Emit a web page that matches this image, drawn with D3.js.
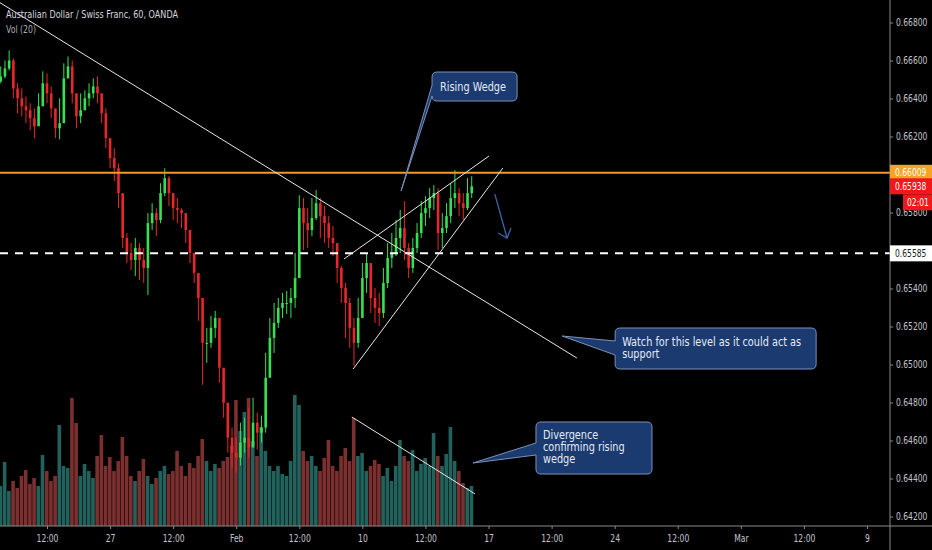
<!DOCTYPE html>
<html>
<head>
<meta charset="utf-8">
<script src="https://cdn.jsdelivr.net/npm/d3@7"></script>
<style>
  body { margin: 0; background: #000; overflow: hidden; }
  text { font-family: "DejaVu Sans Condensed", "Liberation Sans", sans-serif; }
</style>
</head>
<body>
<script>
// AUDCHF 60, grouped in 4 hour candles
const firstBar = -26;   // bar index of first candle (0 = Jan 27 open)
const firstOpen = 0.66490;
const closes = [
  0.66516, 0.66558, 0.66600, 0.66453, 0.66401, 0.66359, 0.66338, 0.66296, 0.66254, 0.66359,
  0.66480, 0.66427, 0.66348, 0.66243, 0.66270, 0.66506, 0.66569, 0.66427, 0.66306, 0.66338,
  0.66401, 0.66427, 0.66464, 0.66427, 0.66322, 0.66191, 0.66086, 0.66033, 0.65902, 0.65666,
  0.65587, 0.65550, 0.65613, 0.65550, 0.65508, 0.65744, 0.65797, 0.65760, 0.65902, 0.65981,
  0.65902, 0.65823, 0.65813, 0.65797, 0.65708, 0.65587, 0.65482, 0.65350, 0.65114, 0.65114,
  0.65193, 0.65245, 0.64983, 0.64799, 0.64615, 0.64536, 0.64510, 0.64589, 0.64615, 0.64563,
  0.64694, 0.64641, 0.64668, 0.64930, 0.65140, 0.65219, 0.65298, 0.65324, 0.65324, 0.65350,
  0.65455, 0.65823, 0.65744, 0.65708, 0.65771, 0.65849, 0.65781, 0.65744, 0.65666, 0.65639,
  0.65508, 0.65403, 0.65324, 0.65193, 0.65114, 0.65245, 0.65455, 0.65534, 0.65350, 0.65298,
  0.65271, 0.65429, 0.65561, 0.65587, 0.65666, 0.65718, 0.65613, 0.65508, 0.65613, 0.65692,
  0.65797, 0.65823, 0.65876, 0.65902, 0.65692, 0.65718, 0.65781, 0.65876, 0.65902, 0.65849,
  0.65823, 0.65902, 0.65938
];
const highs = [
  0.66569, 0.66600, 0.66653, 0.66611, 0.66480, 0.66453, 0.66411, 0.66375, 0.66348, 0.66427,
  0.66543, 0.66532, 0.66464, 0.66338, 0.66401, 0.66585, 0.66621, 0.66600, 0.66427, 0.66427,
  0.66443, 0.66480, 0.66506, 0.66516, 0.66427, 0.66348, 0.66191, 0.66138, 0.66059, 0.65876,
  0.65692, 0.65639, 0.65666, 0.65639, 0.65613, 0.65797, 0.65849, 0.65823, 0.65954, 0.66033,
  0.65991, 0.65902, 0.65876, 0.65823, 0.65797, 0.65666, 0.65587, 0.65455, 0.65271, 0.65193,
  0.65256, 0.65282, 0.65245, 0.64930, 0.64773, 0.64668, 0.64615, 0.64694, 0.64720, 0.64773,
  0.64825, 0.64746, 0.64731, 0.65061, 0.65245, 0.65324, 0.65350, 0.65377, 0.65387, 0.65403,
  0.65587, 0.65891, 0.65876, 0.65823, 0.65876, 0.65918, 0.65876, 0.65834, 0.65781, 0.65729,
  0.65613, 0.65518, 0.65429, 0.65350, 0.65245, 0.65350, 0.65534, 0.65587, 0.65534, 0.65403,
  0.65377, 0.65508, 0.65639, 0.65692, 0.65760, 0.65813, 0.65860, 0.65639, 0.65666, 0.65744,
  0.65860, 0.65886, 0.65928, 0.65944, 0.65928, 0.65797, 0.65849, 0.65954, 0.66023, 0.65928,
  0.65902, 0.65981, 0.65991
];
const lows = [
  0.66480, 0.66506, 0.66548, 0.66401, 0.66322, 0.66306, 0.66270, 0.66233, 0.66191, 0.66270,
  0.66401, 0.66375, 0.66296, 0.66191, 0.66185, 0.66427, 0.66506, 0.66375, 0.66243, 0.66270,
  0.66338, 0.66359, 0.66401, 0.66375, 0.66270, 0.66138, 0.66033, 0.65965, 0.65823, 0.65613,
  0.65534, 0.65497, 0.65466, 0.65445, 0.65429, 0.65366, 0.65708, 0.65676, 0.65744, 0.65886,
  0.65834, 0.65760, 0.65744, 0.65718, 0.65639, 0.65534, 0.65429, 0.65230, 0.64893, 0.65009,
  0.65088, 0.65140, 0.64904, 0.64720, 0.64536, 0.64458, 0.64431, 0.64468, 0.64536, 0.64510,
  0.64589, 0.64552, 0.64589, 0.64641, 0.64972, 0.65061, 0.65193, 0.65245, 0.65266, 0.65245,
  0.65298, 0.65482, 0.65602, 0.65613, 0.65676, 0.65760, 0.65666, 0.65639, 0.65613, 0.65571,
  0.65429, 0.65324, 0.65140, 0.65088, 0.64993, 0.65088, 0.65298, 0.65377, 0.65271, 0.65219,
  0.65203, 0.65245, 0.65403, 0.65508, 0.65571, 0.65587, 0.65550, 0.65455, 0.65482, 0.65587,
  0.65666, 0.65729, 0.65771, 0.65813, 0.65602, 0.65613, 0.65692, 0.65744, 0.65823, 0.65781,
  0.65760, 0.65813, 0.65876
];
const volumes = [
  400, 640, 350, 450, 380, 500, 560, 420, 480, 400,
  710, 550, 450, 500, 1010, 600, 580, 1280, 1030, 500,
  620, 550, 480, 700, 910, 600, 690, 550, 650, 890,
  700, 500, 450, 550, 670, 500, 420, 480, 550, 600,
  520, 550, 750, 600, 500, 630, 580, 700, 870, 650,
  550, 620, 580, 650, 690, 800, 1260, 950, 1140, 1280,
  850, 700, 990, 750, 600, 550, 600, 520, 500, 650,
  1310, 1210, 750, 650, 700, 600, 550, 680, 860, 600,
  550, 700, 780, 650, 1080, 700, 730, 550, 600, 660,
  620, 500, 580, 450, 600, 860, 700, 650, 760, 550,
  620, 680, 600, 930, 700, 600, 720, 990, 650, 550,
  430, 380, 400
];

// time axis: bar index of each label (30 bars of 4h per week)
const timeTicks = [-15, 0, 15, 30, 45, 60, 75, 90, 105, 120, 135, 150, 165, 180];
const timeLabels = ["12:00", "27", "12:00", "Feb", "12:00", "10", "12:00", "17", "12:00", "24", "12:00", "Mar", "12:00", "9"];
const priceTicks = [0.642, 0.644, 0.646, 0.648, 0.650, 0.652, 0.654, 0.656, 0.658, 0.660, 0.662, 0.664, 0.666, 0.668];

// levels and drawings: [bar, price]
const resistance = 0.66009;
const support = 0.65585;
const lastPrice = 0.65938;
const downTrend = [[-26.6, 0.66910], [111.0, 0.65034]];
const wedgeUpper = [[55.6, 0.65555], [90.1, 0.66097]];
const wedgeLower = [[57.8, 0.64976], [93.4, 0.66034]];
const volTrend = [[57.5, 1090], [86.8, 320]];
const arrowPts = [[91.5, 0.65897], [94.4, 0.65666]];

const W = 932, H = 550;
const plotR = 890, plotB = 526;

const svg = d3.select('body').append('svg').attr('width', W).attr('height', H)
    .style('background', '#000');

const x = d3.scaleLinear().domain([-15, 180]).range([47, 867]);
const y = d3.scaleLinear().domain([0.642, 0.668]).range([516.5, 22.5]);
const yv = d3.scaleLinear().domain([0, 1310]).range([plotB, 395]);

// squeeze text a bit, the chart font is narrower than ours
function squeeze(sel, f) {
    sel.each(function () {
        const len = this.getComputedTextLength();
        d3.select(this).attr('textLength', len * f).attr('lengthAdjust', 'spacingAndGlyphs');
    });
}

const candles = closes.map((c, k) => ({
    bar: firstBar + k,
    o: k === 0 ? firstOpen : closes[k - 1],
    c: c, h: highs[k], l: lows[k], v: volumes[k]
}));

const plot = svg.append('g');
plot.append('clipPath').attr('id', 'clip').append('rect')
    .attr('x', 0).attr('y', 0).attr('width', plotR).attr('height', plotB);
const g = plot.append('g').attr('clip-path', 'url(#clip)');

// volume
const step = x(1) - x(0);
g.append('g').selectAll('rect').data(candles).enter().append('rect')
    .attr('x', d => x(d.bar) - step / 2)
    .attr('width', step - 0.6)
    .attr('y', d => yv(d.v))
    .attr('height', d => plotB - yv(d.v))
    .attr('fill', d => d.c >= d.o ? '#22625c' : '#7c2f2f');

// candles
const up = '#35e052', down = '#e8262b';
const cg = g.append('g');
cg.selectAll('line').data(candles).enter().append('line')
    .attr('x1', d => x(d.bar)).attr('x2', d => x(d.bar))
    .attr('y1', d => y(d.h)).attr('y2', d => y(d.l))
    .attr('stroke', d => d.c >= d.o ? up : down).attr('stroke-width', 1);
cg.selectAll('rect').data(candles).enter().append('rect')
    .attr('x', d => x(d.bar) - 1.3).attr('width', 2.6)
    .attr('y', d => y(Math.max(d.o, d.c)))
    .attr('height', d => Math.max(1, Math.abs(y(d.o) - y(d.c))))
    .attr('fill', d => d.c >= d.o ? up : down);

// levels
g.append('line').attr('x1', 0).attr('x2', plotR).attr('y1', y(resistance)).attr('y2', y(resistance))
    .attr('stroke', '#f29a22').attr('stroke-width', 2);
g.append('line').attr('x1', 0).attr('x2', plotR).attr('y1', y(support)).attr('y2', y(support))
    .attr('stroke', '#ffffff').attr('stroke-width', 2).attr('stroke-dasharray', '8,7');

// trend lines
const priceLine = d3.line().x(d => x(d[0])).y(d => y(d[1]));
[downTrend, wedgeUpper, wedgeLower].forEach(pts => {
    g.append('path').attr('d', priceLine(pts)).attr('stroke', '#e8e8e8')
        .attr('stroke-width', 1).attr('fill', 'none');
});
g.append('path').attr('d', d3.line().x(d => x(d[0])).y(d => yv(d[1]))(volTrend))
    .attr('stroke', '#e8e8e8').attr('stroke-width', 1).attr('fill', 'none');

// arrow
const ax1 = x(arrowPts[0][0]), ay1 = y(arrowPts[0][1]);
const ax2 = x(arrowPts[1][0]), ay2 = y(arrowPts[1][1]);
g.append('line').attr('x1', ax1).attr('y1', ay1).attr('x2', ax2).attr('y2', ay2)
    .attr('stroke', '#3f64a8').attr('stroke-width', 1.3);
g.append('path').attr('d', `M${ax2 - 9},${ay2 - 5} L${ax2},${ay2} L${ax2 + 4},${ay2 - 10}`)
    .attr('stroke', '#3f64a8').attr('stroke-width', 1.3).attr('fill', 'none');

// callouts
const callouts = [
    { tip: [x(69.2), y(0.65913)], box: [31, -119, 85, 29], tail: [13, 24], lines: ["Rising Wedge"], ty: 19, tx: 8 },
    { tip: [x(107.5), y(0.65150)], box: [53, -8, 201, 41], tail: [13, 27], lines: ["Watch for this level as it could act as", "support"], ty: 18, tx: 7 },
    { tip: [x(86.3), yv(630)], box: [63, -41, 116, 52], tail: [21, 33], lines: ["Divergence", "confirming rising", "wedge"], ty: 17, tx: 7 }
];
callouts.forEach(c => {
    const [tx, ty] = c.tip;
    const x0 = tx + c.box[0], y0 = ty + c.box[1], x1 = x0 + c.box[2], y1 = y0 + c.box[3];
    const r = 5, a = y0 + c.tail[0], b = y0 + c.tail[1];
    const d = `M${x0 + r},${y0} H${x1 - r} Q${x1},${y0} ${x1},${y0 + r} V${y1 - r} Q${x1},${y1} ${x1 - r},${y1}` +
        ` H${x0 + r} Q${x0},${y1} ${x0},${y1 - r} V${b} L${tx},${ty} L${x0},${a} V${y0 + r} Q${x0},${y0} ${x0 + r},${y0} Z`;
    svg.append('path').attr('d', d).attr('fill', '#1b3a6f').attr('stroke', '#7d92b8').attr('stroke-width', 1);
    c.lines.forEach((t, i) => {
        svg.append('text').attr('x', x0 + c.tx).attr('y', y0 + c.ty + i * 12)
            .attr('fill', '#e4ebf6').attr('font-size', 12).text(t)
            .call(squeeze, 0.9);
    });
});

// axes
const yAxis = svg.append('g').attr('transform', `translate(${plotR},0)`)
    .call(d3.axisRight(y).tickValues(priceTicks).tickFormat(d3.format('.5f')).tickSize(3).tickPadding(3));
const xAxis = svg.append('g').attr('transform', `translate(0,${plotB})`)
    .call(d3.axisBottom(x).tickValues(timeTicks).tickFormat((d, i) => timeLabels[i]).tickSize(3).tickPadding(6));
[yAxis, xAxis].forEach(a => {
    a.select('.domain').remove();
    a.selectAll('line').attr('stroke', '#8a8a8a');
    a.selectAll('text').attr('fill', '#c3c6cd').attr('font-size', 9.6)
        .style('font-family', '"DejaVu Sans Condensed", "Liberation Sans", sans-serif')
        .call(squeeze, 0.88);
});
// labels sitting under the level tags are hidden, like on the chart
yAxis.selectAll('.tick text')
    .filter(d => Math.abs(y(d) - y(resistance)) < 12 || Math.abs(y(d) - y(support)) < 12)
    .remove();
svg.append('line').attr('x1', plotR).attr('x2', plotR).attr('y1', 0).attr('y2', H).attr('stroke', '#8a8a8a');
svg.append('line').attr('x1', 0).attr('x2', W).attr('y1', plotB).attr('y2', plotB).attr('stroke', '#8a8a8a');

// price labels on the right scale
function priceTag(price, fill, color, text, left) {
    const cy = y(price);
    svg.append('rect').attr('x', left).attr('y', cy - 8).attr('width', W - left).attr('height', 16).attr('fill', fill);
    svg.append('text').attr('x', left + 5).attr('y', cy + 3.5).attr('fill', color).attr('font-size', 9.6).text(text)
        .call(squeeze, 0.88);
}
priceTag(resistance, '#f7a325', '#ffffff', d3.format('.5f')(resistance), plotR);
priceTag(lastPrice, '#f2171b', '#ffffff', d3.format('.5f')(lastPrice), plotR);
const cd = y(lastPrice) + 16;
svg.append('rect').attr('x', 903).attr('y', cd - 8).attr('width', W - 903).attr('height', 16).attr('fill', '#f2171b');
svg.append('text').attr('x', 907).attr('y', cd + 3.5).attr('fill', '#ffffff').attr('font-size', 9.6).text('02:01')
    .call(squeeze, 0.88);
priceTag(support, '#ffffff', '#1a1a1a', d3.format('.5f')(support), plotR);

// header
svg.append('text').attr('x', 6).attr('y', 18).attr('fill', '#d6d8de').attr('font-size', 11)
    .attr('textLength', 172).attr('lengthAdjust', 'spacingAndGlyphs')
    .text('Australian Dollar / Swiss Franc, 60, OANDA');
svg.append('text').attr('x', 6).attr('y', 33).attr('fill', '#a9acb3').attr('font-size', 11)
    .attr('textLength', 30).attr('lengthAdjust', 'spacingAndGlyphs')
    .text('Vol (20)');
</script>
</body>
</html>
